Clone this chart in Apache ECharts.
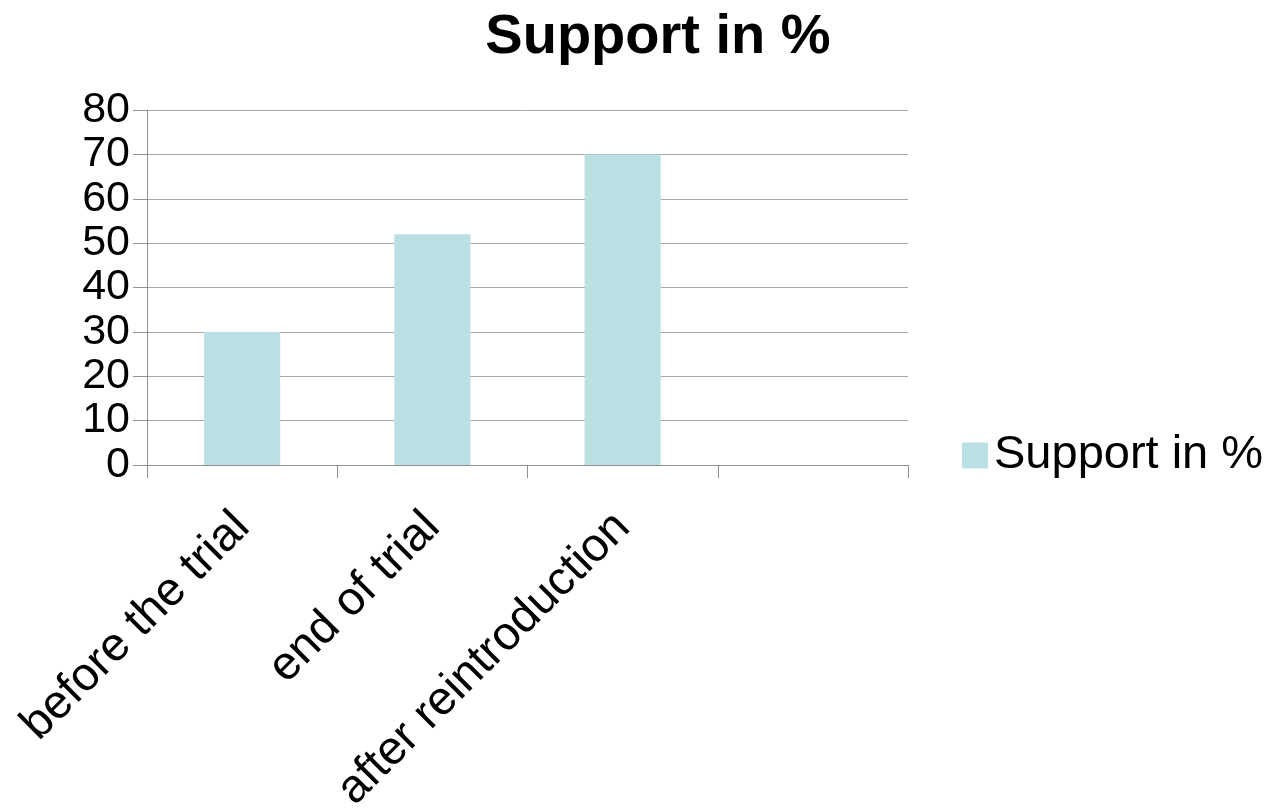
<!DOCTYPE html>
<html><head><meta charset="utf-8">
<script src="https://cdn.jsdelivr.net/npm/echarts@6/dist/echarts.min.js"></script>
<style>html,body{margin:0;padding:0;background:#fff}#c{width:1269px;height:808px}</style>
</head><body><div id="c"></div>
<script>
const categories = ['before the trial', 'end of trial', 'after reintroduction', ''];
const seriesName = 'Support in %';
const values = [30, 52, 70, null];
const yTicks = [0, 10, 20, 30, 40, 50, 60, 70, 80];

const chart = echarts.init(document.getElementById('c'));
chart.setOption({
  backgroundColor: '#ffffff',
  animation: false,
  title: {
    text: 'Support in %', left: 653, top: 5, textAlign: 'center',
    textStyle: { fontFamily: 'Liberation Sans', fontWeight: 'bold', fontSize: 56, color: '#000' }
  },
  legend: {
    data: [seriesName], left: 957, top: 427, itemWidth: 26, itemHeight: 26, itemGap: 10,
    icon: 'rect',
    textStyle: { fontFamily: 'Liberation Sans', fontSize: 47, color: '#000', padding: [0, 0, 0, 1] }
  },
  grid: { left: 147, right: 361, top: 110, bottom: 343, containLabel: false, outerBoundsMode: 'none' },
  xAxis: {
    type: 'category', data: categories, boundaryGap: true,
    axisLine: { lineStyle: { color: '#909090', width: 1 } },
    axisTick: { show: true, alignWithLabel: false, length: 13, lineStyle: { color: '#909090' } },
    axisLabel: { rotate: 45, interval: 0, margin: 55, hideOverlap: false, fontFamily: 'Liberation Sans', fontSize: 47, color: '#000' }
  },
  yAxis: {
    type: 'value', min: 0, max: 80, interval: 10,
    axisLine: { show: true, lineStyle: { color: '#909090' } },
    axisTick: { show: true, length: 14, inside: false, lineStyle: { color: '#909090' } },
    splitLine: { lineStyle: { color: '#a6a6a6', width: 1 } },
    axisLabel: {
      margin: 17, fontFamily: 'Liberation Sans', fontSize: 43, color: '#000',
      showMinLabel: true, showMaxLabel: true, hideOverlap: false,
      formatter: v => yTicks.includes(v) ? String(v) : ''
    }
  },
  series: [{
    name: seriesName, type: 'bar', data: values, barWidth: '40%',
    itemStyle: { color: '#bae0e4' }
  }]
});
</script></body></html>
